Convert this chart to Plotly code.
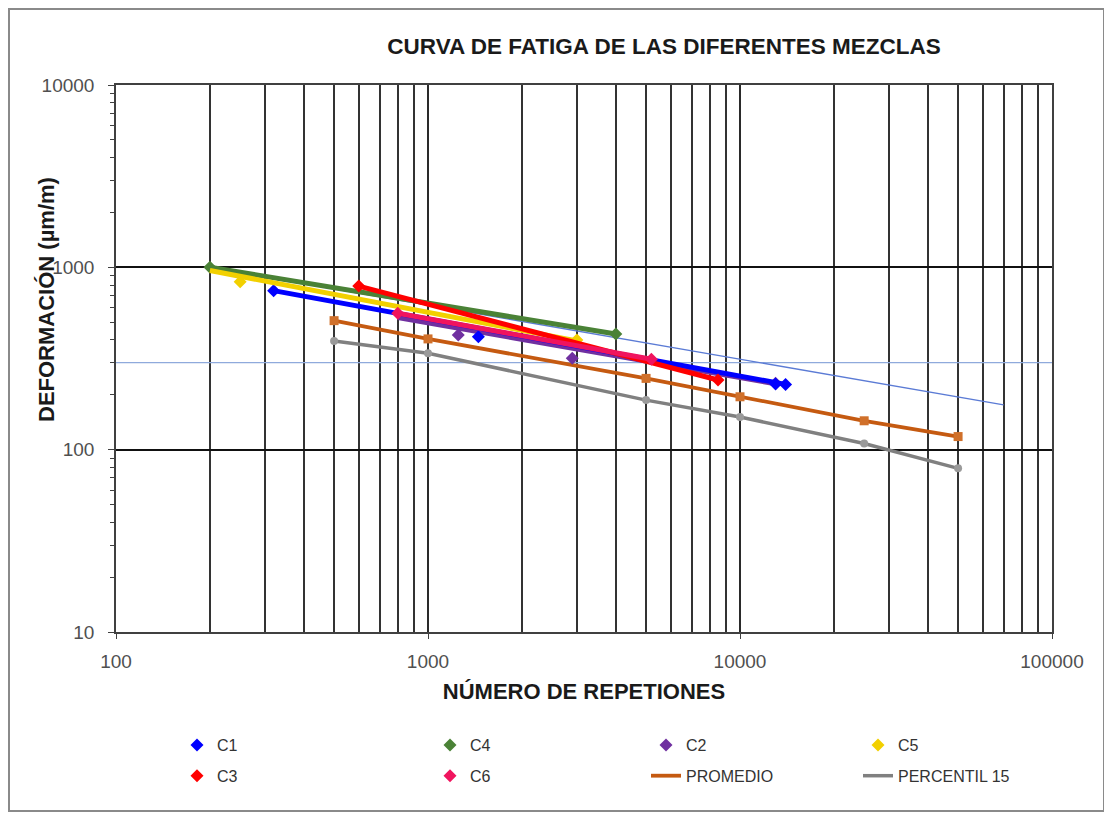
import plotly.graph_objects as go

# ---------------- data ----------------
c1_x = [320, 1450, 13000, 14000]
c1_y = [745, 416, 229, 228]
c1_trend_x = [320, 14000]
c1_trend_y = [745, 228]

c4_x = [200, 4000]
c4_y = [1000, 431]
c4_trend_x = [200, 4000]
c4_trend_y = [1000, 431]

c2_x = [1250, 2900, 13000]
c2_y = [425, 317, 231]
c2_trend_x = [800, 13000]
c2_trend_y = [530, 230]

c5_x = [250, 3000]
c5_y = [834, 399]
c5_trend_x = [200, 3000]
c5_trend_y = [960, 395]

c3_x = [600, 8500]
c3_y = [789, 241]
c3_trend_x = [600, 8500]
c3_trend_y = [789, 241]

c6_x = [800, 5200]
c6_y = [560, 313]
c6_trend_x = [800, 5200]
c6_trend_y = [560, 313]

prom_x = [500, 1000, 5000, 10000, 25000, 50000]
prom_y = [510, 405, 246, 195, 144, 118]

p15_x = [500, 1000, 5000, 10000, 25000, 50000]
p15_y = [395, 338, 187, 151, 108, 79]

ref_line_x = [200, 70000]
ref_line_y = [1000, 176]

limit_x = [100, 100000]
limit_y = [300, 300]

x_ticks = [100, 1000, 10000, 100000]
y_ticks = [10, 100, 1000, 10000]

# ---------------- figure ----------------
OFF = 8  # page body margin
W, H = 1112 - OFF, 818 - OFF
L, T = 116 - OFF, 85 - OFF
R = W - (1052 - OFF)
B = H - (632 - OFF)
PW, PH = W - L - R, H - T - B


def px_x(p):  # screen pixel -> paper x
    return (p - OFF - L) / PW


def px_y(p):  # screen pixel -> paper y
    return (H - B - (p - OFF)) / PH


FONT = "Liberation Sans, Arial, sans-serif"
fig = go.Figure()

# thin reference lines
fig.add_trace(go.Scatter(x=limit_x, y=limit_y, mode="lines",
                         line=dict(color="#8FAADC", width=1.3), showlegend=False, hoverinfo="skip"))
fig.add_trace(go.Scatter(x=ref_line_x, y=ref_line_y, mode="lines",
                         line=dict(color="#5B7BD5", width=1.3), showlegend=False, hoverinfo="skip"))

# percentil & promedio
fig.add_trace(go.Scatter(x=p15_x, y=p15_y, mode="lines", name="PERCENTIL 15",
                         line=dict(color="#808080", width=3.5), legend="legend4",
                         legendgroup="p15"))
fig.add_trace(go.Scatter(x=p15_x, y=p15_y, mode="markers", showlegend=False,
                         marker=dict(color="#9A9A9A", size=8, symbol="circle")))
fig.add_trace(go.Scatter(x=prom_x, y=prom_y, mode="lines", name="PROMEDIO",
                         line=dict(color="#C55A11", width=3.8), legend="legend3",
                         legendgroup="prom"))
fig.add_trace(go.Scatter(x=prom_x, y=prom_y, mode="markers", showlegend=False,
                         marker=dict(color="#D0702A", size=9, symbol="square")))

series = [
    ("C2", c2_x, c2_y, c2_trend_x, c2_trend_y, "#7030A0", "legend3"),
    ("C1", c1_x, c1_y, c1_trend_x, c1_trend_y, "#0000FF", "legend"),
    ("C4", c4_x, c4_y, c4_trend_x, c4_trend_y, "#4A8236", "legend2"),
    ("C5", c5_x, c5_y, c5_trend_x, c5_trend_y, "#F2D000", "legend4"),
    ("C3", c3_x, c3_y, c3_trend_x, c3_trend_y, "#FF0000", "legend"),
    ("C6", c6_x, c6_y, c6_trend_x, c6_trend_y, "#F0145E", "legend2"),
]
for name, xs, ys, tx, ty, col, lg in series:
    fig.add_trace(go.Scatter(x=tx, y=ty, mode="lines", showlegend=False,
                             line=dict(color=col, width=5), hoverinfo="skip"))
    fig.add_trace(go.Scatter(x=xs, y=ys, mode="markers", name=name, legend=lg,
                             legendgroup=name,
                             marker=dict(color=col, size=10, symbol="diamond")))

# order the legend entries: row1 / row2 in each column
rank = {"C1": 1, "C3": 2, "C4": 1, "C6": 2, "C2": 1, "prom": 2, "C5": 1, "p15": 2}
for tr in fig.data:
    if tr.showlegend is not False and tr.legendgroup in rank:
        tr.legendrank = rank[tr.legendgroup]

leg_common = dict(orientation="v", yanchor="top", xanchor="left",
                  font=dict(family=FONT, size=16, color="#333333"),
                  bgcolor="rgba(0,0,0,0)", tracegroupgap=7, itemwidth=30)
fig.update_layout(
    legend=dict(x=px_x(177), y=px_y(728), **leg_common),
    legend2=dict(x=px_x(430), y=px_y(728), **leg_common),
    legend3=dict(x=px_x(646), y=px_y(728), **leg_common),
    legend4=dict(x=px_x(858), y=px_y(728), **leg_common),
)

axis_font = dict(family=FONT, size=19, color="#505050")
fig.update_xaxes(
    type="log", range=[2, 5], tickvals=x_ticks, ticktext=[str(v) for v in x_ticks],
    tickfont=axis_font, showgrid=True, gridcolor="#2A2A2A", gridwidth=1.8,
    minor=dict(dtick="D1", showgrid=True, gridcolor="#333333", gridwidth=1.8, ticks=""),
    showline=True, linecolor="#404040", linewidth=1.5, mirror=True,
    ticks="outside", ticklen=5, tickcolor="#404040", zeroline=False, ticklabelstandoff=6,
    title=dict(text="<b>NÚMERO DE REPETIONES</b>", font=dict(family=FONT, size=22, color="#1a1a1a"),
               standoff=13),
)
fig.update_yaxes(
    type="log", range=[1, 4], tickvals=y_ticks, ticktext=[str(v) for v in y_ticks],
    tickfont=axis_font, showgrid=True, gridcolor="#111111", gridwidth=1.6,
    minor=dict(dtick="D1", showgrid=False, ticks="outside", ticklen=4, tickcolor="#404040"),
    showline=True, linecolor="#404040", linewidth=1.5, mirror=True,
    ticks="outside", ticklen=6, tickcolor="#404040", zeroline=False, ticklabelstandoff=10,
)

fig.add_annotation(text="<b>DEFORMACIÓN (µm/m)</b>", textangle=-90,
                   xref="paper", yref="paper", x=px_x(46), y=px_y(300),
                   xanchor="center", yanchor="middle",
                   showarrow=False, font=dict(family=FONT, size=22, color="#1a1a1a"))

fig.add_shape(type="rect", xref="paper", yref="paper",
              x0=px_x(9), x1=px_x(1104), y0=px_y(811), y1=px_y(9),
              line=dict(color="#8a8a8a", width=2), fillcolor="rgba(0,0,0,0)", layer="below")

fig.update_layout(
    width=W, height=H, margin=dict(l=L, r=R, t=T, b=B),
    paper_bgcolor="white", plot_bgcolor="white",
    title=dict(text="<b>CURVA DE FATIGA DE LAS DIFERENTES MEZCLAS</b>",
               font=dict(family=FONT, size=22.5, color="#1a1a1a"),
               x=(664 - OFF) / W, xanchor="center", xref="container",
               y=1 - (46 - OFF) / H, yanchor="middle", yref="container"),
)

fig.write_html("out.html")
